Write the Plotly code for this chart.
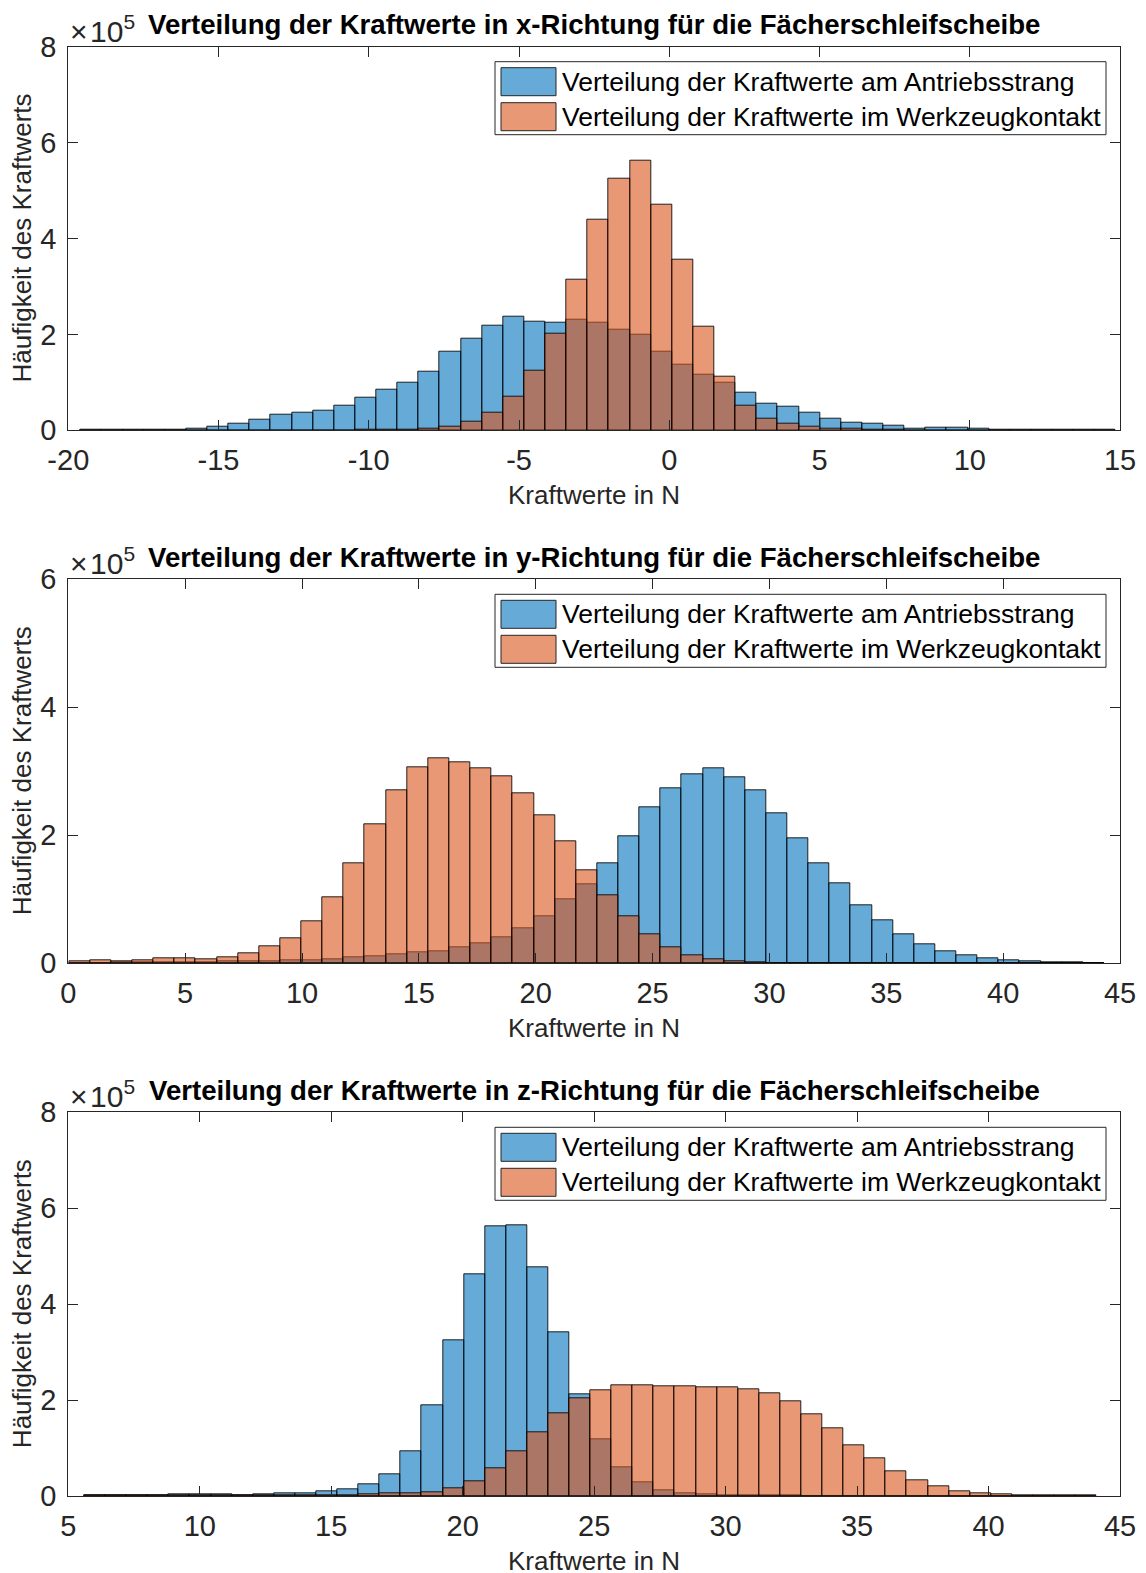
import numpy as np
import plotly.graph_objects as go

W, H = 1146, 1573
FONT = "Liberation Sans, Arial, Helvetica, sans-serif"
AX_COLOR = "#262626"

# ---------------- data ----------------
# histogram bins: first edge and bin width (N)
fx_bin_start, fx_bin_width = -19.59, 0.703
fy_bin_start, fy_bin_width = 0.03, 0.904
fz_bin_start, fz_bin_width = 5.61, 0.802

# counts per bin, x-direction
fx_antrieb = [500, 1400, 1400, 1400, 2000, 4000, 8300, 14600, 22000, 33000,
              37000, 40000, 51000, 67000, 85000, 100000, 123000, 163000, 190000, 219000,
              236000, 226000, 224000, 231000, 224000, 210000, 199000, 163000, 137000, 116000,
              99000, 78000, 56000, 49000, 37000, 24000, 15000, 14000, 10000, 3500,
              5500, 5500, 3500, 2000, 1400, 1400, 1000, 1000, 500]
fx_werkzeug = [0, 0, 0, 0, 0, 0, 0, 0, 0, 0,
               0, 0, 0, 300, 500, 1000, 3000, 8300, 17000, 37000,
               71000, 125000, 201000, 315000, 439000, 524000, 562000, 470000, 356000, 217000,
               111000, 52000, 24000, 14000, 7000, 3000, 3000, 1000, 500, 0,
               0, 0, 0, 0, 0, 0, 0, 0, 0]

# counts per bin, y-direction
fy_antrieb = [500, 500, 1000, 1000, 1500, 2000, 2000, 3000, 3500, 3500,
              4000, 5000, 6500, 9000, 11000, 13500, 17000, 19000, 24500, 31000,
              41000, 55000, 74000, 100000, 124000, 157000, 198000, 243000, 274000, 295000,
              304000, 291000, 271000, 234000, 195000, 157000, 124500, 90600, 66700, 46000,
              30000, 19000, 12000, 7800, 4700, 3600, 1600, 1000, 500]
fy_werkzeug = [2600, 4000, 2600, 4000, 7300, 7800, 6250, 8900, 16000, 26000,
               39000, 65000, 103000, 156000, 217000, 271000, 306000, 321000, 314000, 304000,
               292000, 265000, 232000, 190000, 145000, 107000, 74000, 46000, 25000, 12500,
               6800, 3600, 1600, 500, 0, 0, 0, 0, 0, 0,
               0, 0, 0, 0, 0, 0, 0, 0, 0]

# counts per bin, z-direction
fz_antrieb = [1400, 1400, 1400, 1400, 2800, 3500, 2800, 1400, 2800, 5000,
              6250, 9700, 14600, 24000, 45000, 93000, 190000, 324000, 463000, 563000,
              565000, 476000, 341000, 213000, 119000, 60000, 28500, 11800, 5600, 3500,
              2000, 1400, 700, 500, 300, 0, 0, 0, 0, 0,
              0, 0, 0, 0, 0, 0, 0, 0]
fz_werkzeug = [500, 500, 500, 500, 1000, 1000, 1000, 1000, 2000, 2000,
               2500, 2000, 2000, 3500, 5500, 6500, 7300, 15300, 31000, 57600,
               93000, 133000, 173000, 203000, 220000, 230000, 231000, 229000, 228000, 226000,
               226000, 222000, 214000, 198000, 171000, 142000, 106000, 78000, 51000, 32000,
               19400, 9700, 5600, 3500, 2000, 1400, 1000, 700]

titles = [
    "Verteilung der Kraftwerte in x-Richtung für die Fächerschleifscheibe",
    "Verteilung der Kraftwerte in y-Richtung für die Fächerschleifscheibe",
    "Verteilung der Kraftwerte in z-Richtung für die Fächerschleifscheibe",
]
legend_labels = ["Verteilung der Kraftwerte am Antriebsstrang",
                 "Verteilung der Kraftwerte im Werkzeugkontakt"]
x_label = "Kraftwerte in N"
y_label = "Häufigkeit des Kraftwerts"

x_ranges = [(-20, 15), (0, 45), (5, 45)]
x_tickvals = [list(range(-20, 16, 5)), list(range(0, 46, 5)), list(range(5, 46, 5))]
y_tickvals = [[0, 2, 4, 6, 8], [0, 2, 4, 6], [0, 2, 4, 6, 8]]

panels = [
    (fx_bin_start, fx_bin_width, fx_antrieb, fx_werkzeug),
    (fy_bin_start, fy_bin_width, fy_antrieb, fy_werkzeug),
    (fz_bin_start, fz_bin_width, fz_antrieb, fz_werkzeug),
]

# ---------------- layout geometry (pixels) ----------------
AX_L, AX_R = 68.3, 1120.0
AX_TB = [(46.7, 430.3), (579.3, 963.3), (1112.3, 1496.0)]

BLUE = "rgba(0,114,189,0.6)"
ORANGE = "rgba(217,83,25,0.6)"
BLUE_SOLID = "rgb(102,170,215)"
ORANGE_SOLID = "rgb(232,152,117)"

TICK_SIZE = 29
LABEL_SIZE = 26
TITLE_SIZE = 27.6
LEGEND_SIZE = 26.5


def px(x):
    return x / W


def py(y):
    return 1 - y / H


fig = go.Figure()
annotations = []
shapes = []

for i, (start, width, antrieb, werkzeug) in enumerate(panels):
    n = len(antrieb)
    centers = start + width * (np.arange(n) + 0.5)
    xa = "x" if i == 0 else f"x{i + 1}"
    ya = "y" if i == 0 else f"y{i + 1}"
    for vals, col in ((antrieb, BLUE), (werkzeug, ORANGE)):
        fig.add_trace(go.Bar(
            x=centers, y=vals, width=width,
            marker=dict(color=col, line=dict(color="rgba(0,0,0,0.85)", width=1)),
            xaxis=xa, yaxis=ya, showlegend=False, hoverinfo="skip",
        ))

    top, bot = AX_TB[i]
    xkey = "xaxis" if i == 0 else f"xaxis{i + 1}"
    ykey = "yaxis" if i == 0 else f"yaxis{i + 1}"
    ymax = y_tickvals[i][-1]
    fig.update_layout(**{
        xkey: dict(
            domain=[px(AX_L), px(AX_R)], anchor=ya, range=list(x_ranges[i]),
            tickvals=x_tickvals[i], ticktext=[str(v) for v in x_tickvals[i]],
            ticks="inside", ticklen=10, tickwidth=1,
            tickcolor=AX_COLOR, showline=True, linecolor=AX_COLOR, linewidth=1,
            mirror="ticks", showgrid=False, zeroline=False, automargin=False,
            tickfont=dict(family=FONT, size=TICK_SIZE, color=AX_COLOR),
            ticklabelstandoff=4,
        ),
        ykey: dict(
            domain=[py(bot), py(top)], anchor=xa, range=[0, ymax * 1e5],
            tickvals=[v * 1e5 for v in y_tickvals[i]],
            ticktext=[str(v) for v in y_tickvals[i]],
            ticks="inside", ticklen=10, tickwidth=1,
            tickcolor=AX_COLOR, showline=True, linecolor=AX_COLOR, linewidth=1,
            mirror="ticks", showgrid=False, zeroline=False, automargin=False,
            tickfont=dict(family=FONT, size=TICK_SIZE, color=AX_COLOR),
            ticklabelstandoff=5,
        ),
    })

    # title and exponent label
    annotations.append(dict(
        x=px((AX_L + AX_R) / 2), y=py(top - 22), xref="paper", yref="paper",
        text="<b>" + titles[i] + "</b>", showarrow=False,
        xanchor="center", yanchor="middle",
        font=dict(family=FONT, size=TITLE_SIZE, color="black"),
    ))
    annotations.append(dict(
        x=px(AX_L), y=py(top + 3), xref="paper", yref="paper",
        text="×\u200a10<sup>5</sup>", showarrow=False, xanchor="left", yanchor="bottom",
        font=dict(family=FONT, size=30, color=AX_COLOR),
    ))
    # axis titles
    annotations.append(dict(
        x=px((AX_L + AX_R) / 2), y=py(bot + 65), xref="paper", yref="paper",
        text=x_label, showarrow=False, xanchor="center", yanchor="middle",
        font=dict(family=FONT, size=LABEL_SIZE, color=AX_COLOR),
    ))
    annotations.append(dict(
        x=px(22), y=py((top + bot) / 2), xref="paper", yref="paper",
        text=y_label, showarrow=False, xanchor="center", yanchor="middle",
        textangle=-90, font=dict(family=FONT, size=LABEL_SIZE, color=AX_COLOR),
    ))

    # legend box
    lt = top + 15
    shapes.append(dict(type="rect", xref="paper", yref="paper",
                       x0=px(495), x1=px(1106), y0=py(lt), y1=py(lt + 73),
                       line=dict(color=AX_COLOR, width=1), fillcolor="white", layer="above"))
    for j, (lab, sw) in enumerate(zip(legend_labels, (BLUE_SOLID, ORANGE_SOLID))):
        s0 = lt + 6 + j * 35
        shapes.append(dict(type="rect", xref="paper", yref="paper",
                           x0=px(501), x1=px(556), y0=py(s0), y1=py(s0 + 28),
                           line=dict(color=AX_COLOR, width=1), fillcolor=sw, layer="above"))
        annotations.append(dict(
            x=px(560), y=py(s0 + 14), xref="paper", yref="paper",
            text=lab, showarrow=False, xanchor="left", yanchor="middle",
            font=dict(family=FONT, size=LEGEND_SIZE, color="black"),
        ))

fig.update_layout(
    width=W, height=H,
    margin=dict(l=0, r=0, t=0, b=0, autoexpand=False),
    paper_bgcolor="white", plot_bgcolor="white",
    barmode="overlay", bargap=0,
    annotations=annotations, shapes=shapes,
    showlegend=False,
)

fig.write_html("out.html")
